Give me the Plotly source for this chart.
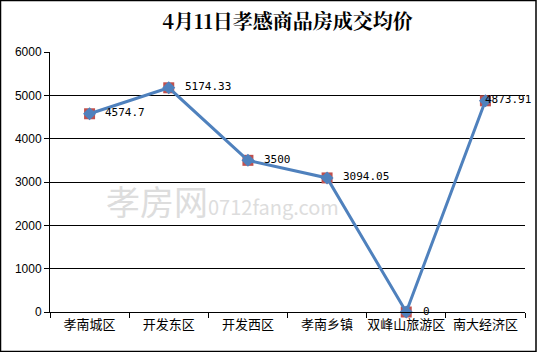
import plotly.graph_objects as go

categories = ["孝南城区", "开发东区", "开发西区", "孝南乡镇", "双峰山旅游区", "南大经济区"]
prices = [4574.7, 5174.33, 3500, 3094.05, 0, 4873.91]
price_labels = ["4574.7", "5174.33", "3500", "3094.05", "0", "4873.91"]
label_shift = [13, 14, 14, 14, 15, -2]
title_text = "4月11日孝感商品房成交均价"

W, H = 537, 352
ml, mr, mt, mb = 50, 12, 52, 40
pw, ph = W - ml - mr, H - mt - mb

fig = go.Figure()
fig.add_trace(go.Scatter(
    x=categories, y=prices, mode="markers",
    marker=dict(symbol="square", size=11, color="#C0504D"),
    hoverinfo="skip", showlegend=False, cliponaxis=False))
fig.add_trace(go.Scatter(
    x=categories, y=prices, mode="lines+markers",
    line=dict(color="#4F81BD", width=3),
    marker=dict(symbol="diamond", size=10, color="#4F81BD"),
    cliponaxis=False, showlegend=False))

annotations = [
    dict(text=t, x=c, y=v, xref="x", yref="y", xanchor="left", yanchor="middle",
         xshift=s, yshift=1, showarrow=False,
         font=dict(family="DejaVu Sans Mono, monospace", size=11, color="black"))
    for c, v, t, s in zip(categories, prices, price_labels, label_shift)
]
annotations.append(
    dict(text="孝房网<span style='font-size:20px'>0712fang.com</span>",
         xref="paper", yref="paper", x=(222 - ml) / pw, y=1 - (200 - mt) / ph,
         showarrow=False, font=dict(family="Noto Sans CJK SC", size=34, color="#dddddd")))

fig.update_layout(
    width=W, height=H,
    margin=dict(l=ml, r=mr, t=mt, b=mb, autoexpand=False),
    paper_bgcolor="white", plot_bgcolor="white",
    title=dict(text="<b>" + title_text + "</b>", x=0.5, xref="paper", y=1 - 22 / H, yanchor="middle",
               font=dict(family="Noto Serif CJK SC, Noto Sans CJK SC", size=20, color="black")),
    xaxis=dict(type="category", tickson="boundaries", ticks="outside", ticklen=5,
               tickcolor="black", showline=True, linecolor="black", linewidth=1,
               showgrid=False, range=[-0.5, 5.5], tickangle=0, automargin=False,
               tickfont=dict(family="Noto Sans CJK SC", size=13, color="black")),
    yaxis=dict(range=[0, 6000], dtick=1000, ticks="outside", ticklen=5, tickcolor="black",
               showline=True, linecolor="black", linewidth=1, automargin=False,
               showgrid=True, gridcolor="black", gridwidth=1, zeroline=False,
               tickfont=dict(family="Liberation Sans, Arial", size=12, color="black")),
    shapes=[dict(type="rect", xref="paper", yref="paper",
                 x0=-(ml - 0.5) / pw, x1=1 + (mr - 1) / pw,
                 y0=-(mb - 0.5) / ph, y1=1 + (mt - 0.5) / ph,
                 line=dict(color="black", width=1.5), layer="below")],
    annotations=annotations,
)

fig.write_html("out.html")
